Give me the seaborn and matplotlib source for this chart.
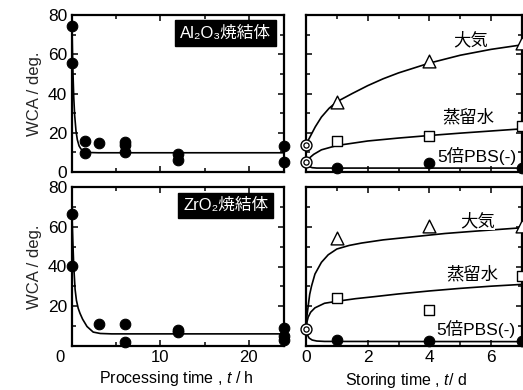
import numpy as np
import pandas as pd
import matplotlib
matplotlib.use("Agg")
import matplotlib.pyplot as plt
import matplotlib.transforms as mtransforms
from matplotlib.ticker import MultipleLocator
import seaborn as sns

# ---- data ----
# left panels: WCA vs processing time
proc_t_al = [0, 0, 1.5, 1.5, 3, 6, 6, 6, 12, 12, 24, 24]
wca_al = [74.4, 55.7, 15.8, 9.8, 14.9, 15.5, 13.8, 10.4, 9.2, 6.1, 13.4, 4.9]
fit_t_al = [0, 0.05, 0.1, 0.2, 0.3, 0.45, 0.6, 0.8, 1.0, 1.3, 1.7, 2.2, 3, 24]
fit_al = [74, 62, 52, 38, 29, 21, 16.5, 13.3, 11.8, 10.7, 10.1, 9.9, 9.8, 9.8]

proc_t_zr = [0, 0, 3, 6, 6, 12, 12, 24, 24, 24]
wca_zr = [66.3, 40.4, 11.0, 11.2, 1.8, 7.9, 7.2, 9.3, 5.2, 3.0]
fit_t_zr = [0, 0.1, 0.2, 0.35, 0.5, 0.7, 0.9, 1.2, 1.7, 2.4, 3.2, 4.5, 24]
fit_zr = [66, 52, 40, 28.5, 23, 19, 16.5, 13.5, 9.8, 7.0, 6.3, 6.1, 6.1]

# right panels: WCA vs storing time
store_t = [1, 4, 7]
air_al = [35.5, 56.6, 65.6]
water_al = [15.8, 18.5, 23.4]
pbs_al = [2.2, 4.4, 1.9]
start_al = [13.8, 4.9]

air_zr = [54.4, 60.5, 60.5]
water_zr = [24.3, 18.0, 35.0]
pbs_zr = [3.0, 2.7, 2.7]
start_zr = [8.5]

air_fit_t_al = [0, 0.05, 0.15, 0.3, 0.5, 0.75, 1, 1.5, 2, 2.5, 3, 4, 5, 6, 7]
air_fit_al = [13.8, 15.5, 18.5, 23, 28, 32.5, 35.8, 40, 44, 47.5, 50.5, 55.5, 59.5, 62.5, 64.8]
water_fit_t_al = [0, 0.1, 0.25, 0.5, 1, 2, 3, 4, 5, 6, 7]
water_fit_al = [4.9, 7, 9, 11.3, 13.5, 15.8, 17.3, 18.6, 19.8, 20.9, 22]
pbs_fit_t_al = [0, 0.05, 0.1, 0.2, 0.35, 0.6, 7]
pbs_fit_al = [4.9, 3.6, 2.8, 2.2, 2.0, 2.0, 2.0]

air_fit_t_zr = [0, 0.03, 0.07, 0.12, 0.18, 0.29, 0.5, 0.72, 1.0, 1.4, 1.8, 2.5, 3.5, 4.5, 5.5, 7]
air_fit_zr = [8.5, 15, 20, 26, 30.2, 36.2, 42.1, 45.9, 48.8, 50.6, 51.8, 53.4, 55.0, 56.6, 57.8, 59.5]
water_fit_t_zr = [0, 0.03, 0.07, 0.15, 0.29, 0.6, 1.0, 1.6, 2.2, 3, 4, 5, 6, 7]
water_fit_zr = [8.5, 12, 14.5, 17, 19.2, 21.5, 22.5, 23.8, 24.8, 26.2, 27.7, 29, 30.1, 31]
pbs_fit_t_zr = [0, 0.05, 0.1, 0.2, 0.35, 0.6, 7]
pbs_fit_zr = [8.5, 5.5, 4.0, 3.0, 2.5, 2.3, 2.2]

sample_names = ["Al\u2082O\u2083焼結体", "ZrO\u2082焼結体"]
env_names = ["大気", "蒸留水", "5倍PBS(-)"]

# ---- style ----
sns.set_theme(style="white")
plt.rcParams["font.family"] = ["Liberation Sans", "DejaVu Sans", "Noto Sans CJK JP"]
plt.rcParams["mathtext.fontset"] = "custom"
plt.rcParams["mathtext.rm"] = "Liberation Sans"
plt.rcParams["mathtext.it"] = "Liberation Sans:italic"
plt.rcParams["text.color"] = "black"

fig = plt.figure(figsize=(5.23, 3.9), dpi=100)
W, H = 523, 390
ax_tl = fig.add_axes([72 / W, 1 - 172 / H, 212 / W, 157 / H])
ax_bl = fig.add_axes([72 / W, 1 - 346 / H, 212 / W, 159 / H])
ax_tr = fig.add_axes([306 / W, 1 - 172 / H, 216 / W, 157 / H])
ax_br = fig.add_axes([306 / W, 1 - 346 / H, 216 / W, 159 / H])


def frame(ax, xmaj, xmin):
    for s in ax.spines.values():
        s.set_linewidth(1.6)
        s.set_color("black")
    ax.set_ylim(0, 80)
    ax.xaxis.set_major_locator(MultipleLocator(xmaj))
    ax.xaxis.set_minor_locator(MultipleLocator(xmin))
    ax.yaxis.set_major_locator(MultipleLocator(20))
    ax.yaxis.set_minor_locator(MultipleLocator(10))
    ax.tick_params(which="both", direction="in", top=True, right=True,
                   bottom=True, left=True, color="black", width=1.1,
                   labelsize=12.5, labelcolor="black")
    ax.tick_params(which="major", length=4)
    ax.tick_params(which="minor", length=3)
    ax.set_xlabel("")
    ax.set_ylabel("")


dot = dict(color="black", s=58, edgecolor="black", linewidth=0.8, zorder=3, clip_on=False)
line = dict(color="black", linewidth=1.2, sort=False, estimator=None, zorder=2)

# left panels
for ax, t, w, ft, fw in [(ax_tl, proc_t_al, wca_al, fit_t_al, fit_al),
                         (ax_bl, proc_t_zr, wca_zr, fit_t_zr, fit_zr)]:
    sns.lineplot(x=ft, y=fw, ax=ax, **line)
    sns.scatterplot(x=t, y=w, ax=ax, marker="o", **dot)
    ax.set_xlim(0, 24)
    frame(ax, 10, 5)
    ax.set_ylabel("WCA / deg.", fontsize=12, labelpad=4)

ax_tl.set_yticks([0, 20, 40, 60, 80])
ax_tl.tick_params(labelbottom=False)
ax_bl.set_yticks([20, 40, 60, 80])
ax_bl.set_xticks([0, 10, 20])
ax_bl.tick_params(axis="x", pad=3, labelsize=12)
fig.text(176.5 / W, 1 - 379 / H, "Processing time , $t$ / h", fontsize=11.5,
         ha="center", va="center")

for ax, name in [(ax_tl, sample_names[0]), (ax_bl, sample_names[1])]:
    ax.text(0.725, 0.885, name, transform=ax.transAxes, ha="center", va="center",
            color="white", fontsize=12,
            bbox=dict(boxstyle="square,pad=0.3", facecolor="black", edgecolor="black"))

# right panels
panels = [
    (ax_tr, air_al, water_al, pbs_al, start_al,
     (air_fit_t_al, air_fit_al), (water_fit_t_al, water_fit_al), (pbs_fit_t_al, pbs_fit_al),
     [(5.34, 67.3), (5.27, 28.0), (5.53, 8.2)]),
    (ax_br, air_zr, water_zr, pbs_zr, start_zr,
     (air_fit_t_zr, air_fit_zr), (water_fit_t_zr, water_fit_zr), (pbs_fit_t_zr, pbs_fit_zr),
     [(5.56, 62.7), (5.38, 36.2), (5.5, 8.4)]),
]
for ax, air, water, pbs, start, fa, fwt, fp, lab_pos in panels:
    for ft, fv in (fa, fwt, fp):
        sns.lineplot(x=ft, y=fv, ax=ax, **line)
    sns.scatterplot(x=store_t, y=air, ax=ax, marker="^", s=85, facecolor="white",
                    edgecolor="black", linewidth=1.0, zorder=3, clip_on=False)
    sns.scatterplot(x=store_t, y=water, ax=ax, marker="s", s=48, facecolor="white",
                    edgecolor="black", linewidth=1.0, zorder=3, clip_on=False)
    sns.scatterplot(x=store_t, y=pbs, ax=ax, marker="o", **dot)
    t0 = [0] * len(start)
    sns.scatterplot(x=t0, y=start, ax=ax, marker="o", s=62, facecolor="white",
                    edgecolor="black", linewidth=1.0, zorder=4, clip_on=False)
    sns.scatterplot(x=t0, y=start, ax=ax, marker="o", s=14, facecolor="white",
                    edgecolor="black", linewidth=0.9, zorder=5, clip_on=False)
    ax.set_xlim(0, 7)
    frame(ax, 2, 1)
    ax.tick_params(labelleft=False)
    for name, (x, y) in zip(env_names, lab_pos):
        ax.text(x, y, name, ha="center", va="center", fontsize=12.5,
                bbox=dict(boxstyle="square,pad=0.02", facecolor="white", edgecolor="none"),
                zorder=6)

ax_tr.tick_params(labelbottom=False)
ax_br.set_xticks([0, 2, 4, 6])
ax_br.tick_params(axis="x", pad=3)
fig.text(405.5 / W, 1 - 381 / H, "Storing time , $t$/ d", fontsize=11.5,
         ha="center", va="center")

# the "0" of the processing-time axis sits left of the spine
fig.canvas.draw()
lbl0 = ax_bl.get_xticklabels()[0]
lbl0.set_transform(lbl0.get_transform() +
                   mtransforms.ScaledTranslation(-12 / 100, 0, fig.dpi_scale_trans))

fig.savefig("out.png", dpi=100)
